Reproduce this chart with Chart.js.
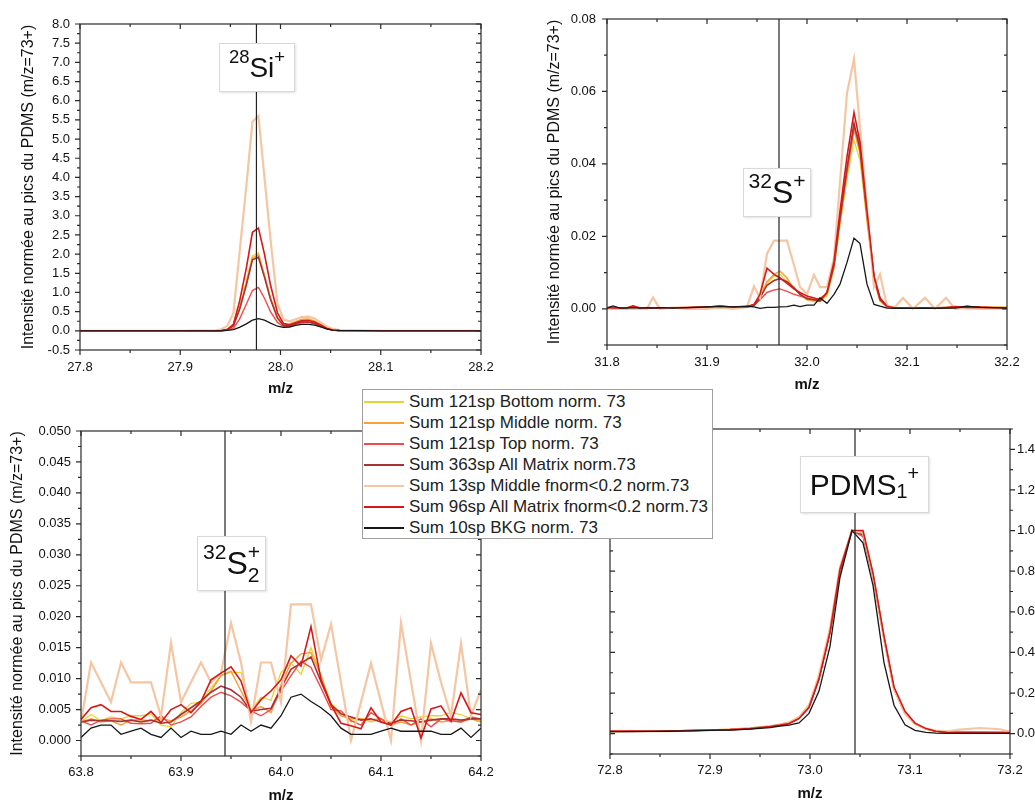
<!DOCTYPE html>
<html>
<head>
<meta charset="utf-8">
<script src="https://cdn.jsdelivr.net/npm/chart.js@4.4.1/dist/chart.umd.min.js"></script>
<style>
  html, body { margin: 0; padding: 0; background: #fff; overflow: hidden; }
  body { width: 1035px; height: 801px; position: relative; font-family: 'Liberation Sans', Arial, sans-serif; color: #111; }
  canvas { position: absolute; }
  .tag { position: absolute; z-index: 3; background: #fff; border: 1px solid #d9d9d9; box-shadow: 1px 1px 2px rgba(0,0,0,0.12);
         box-sizing: border-box; display: flex; align-items: center; justify-content: center; white-space: nowrap; color: #111; }
  .tag .up { font-size: 0.66em; position: relative; top: -0.55em; }
  .tag .dn { font-size: 0.66em; position: relative; top: 0.35em; }
  .tag .stack { display: inline-flex; flex-direction: column; font-size: 0.66em; line-height: 1.05; }
  #legend { position: absolute; z-index: 4; left: 362px; top: 389px; width: 351px; height: 150px; box-sizing: border-box;
            background: #fff; border: 1px solid #a0a0a0; padding-top: 1px; }
  #legend .row { height: 21px; display: flex; align-items: center; font-size: 17px; color: #222; }
  #legend svg { flex: none; margin-left: 1px; margin-right: 5px; }
</style>
</head>
<body>
<canvas id="pSi" width="520" height="400" style="left:0;top:0"></canvas>
<canvas id="pS" width="515" height="400" style="left:520px;top:0"></canvas>
<canvas id="pS2" width="520" height="410" style="left:0;top:400px"></canvas>
<canvas id="pPdms" width="515" height="410" style="left:520px;top:400px"></canvas>

<div class="tag" style="left:219px;top:43px;width:76px;height:49px;font-size:28px"><span class="up">28</span>Si<span class="up">+</span></div>
<div class="tag" style="left:743px;top:168px;width:68px;height:49px;font-size:32px"><span class="up">32</span>S<span class="up">+</span></div>
<div class="tag" style="left:197px;top:536px;width:69px;height:55px;font-size:32px"><span class="up">32</span>S<span class="stack"><span>+</span><span>2</span></span></div>
<div class="tag" style="left:800px;top:456px;width:129px;height:57px;font-size:30px">PDMS<span class="dn">1</span><span class="up">+</span></div>

<div id="legend"></div>

<script>
// series shared by all four panels
const seriesNames = [
  'Sum 121sp Bottom norm. 73',
  'Sum 121sp Middle norm. 73',
  'Sum 121sp Top norm. 73',
  'Sum 363sp All Matrix norm.73',
  'Sum 13sp Middle fnorm<0.2 norm.73',
  'Sum 96sp All Matrix fnorm<0.2 norm.73',
  'Sum 10sp BKG norm. 73'
];
const seriesColors = ['#e6d530', '#f7a03c', '#f24a4a', '#a83232', '#f5c6a3', '#d81818', '#161616'];
const seriesWidths = [1.3, 1.5, 1.4, 1.6, 2.2, 1.6, 1.3];

// 28Si+ panel
const siX      = [27.8, 27.9, 27.935, 27.941, 27.947, 27.953, 27.959, 27.966, 27.972, 27.978, 27.984, 27.990, 27.997, 28.003, 28.009, 28.015, 28.021, 28.028, 28.034, 28.040, 28.046, 28.052, 28.059, 28.1, 28.2];
const siBottom = [0, 0, 0, 0.01, 0.03, 0.15, 0.6, 1.3, 1.95, 2.03, 1.45, 0.85, 0.35, 0.16, 0.16, 0.22, 0.28, 0.29, 0.24, 0.15, 0.07, 0.02, 0, 0, 0];
const siMiddle = [0, 0, 0, 0.01, 0.03, 0.14, 0.57, 1.26, 1.9, 1.98, 1.45, 0.86, 0.36, 0.17, 0.18, 0.24, 0.3, 0.31, 0.26, 0.17, 0.08, 0.02, 0.01, 0, 0];
const siTop    = [0, 0, 0, 0, 0.02, 0.07, 0.3, 0.7, 1.05, 1.13, 0.85, 0.5, 0.22, 0.11, 0.12, 0.17, 0.21, 0.22, 0.18, 0.12, 0.05, 0.02, 0, 0, 0];
const siAll363 = [0, 0, 0, 0.01, 0.03, 0.13, 0.54, 1.2, 1.85, 1.92, 1.4, 0.82, 0.33, 0.14, 0.14, 0.19, 0.23, 0.23, 0.2, 0.13, 0.06, 0.02, 0, 0, 0];
const siMid13  = [0, 0, 0.01, 0.04, 0.13, 0.46, 2.0, 3.8, 5.45, 5.6, 4.0, 2.4, 0.7, 0.3, 0.25, 0.3, 0.36, 0.37, 0.32, 0.22, 0.12, 0.05, 0.02, 0, 0];
const siAll96  = [0, 0, 0, 0.01, 0.04, 0.17, 0.75, 1.65, 2.57, 2.68, 2.0, 1.2, 0.47, 0.19, 0.16, 0.21, 0.26, 0.27, 0.23, 0.15, 0.07, 0.02, 0.01, 0, 0];
const siBkg    = [0, 0, 0, 0, 0.01, 0.03, 0.09, 0.18, 0.28, 0.32, 0.28, 0.2, 0.12, 0.09, 0.1, 0.14, 0.17, 0.17, 0.15, 0.1, 0.05, 0.02, 0.01, 0, 0];
const siRef = 27.976;

// 32S+ panel
const sX      = [31.8, 31.806, 31.813, 31.82, 31.826, 31.833, 31.84, 31.846, 31.853, 31.866, 31.88, 31.9, 31.913, 31.926, 31.94,
                 31.947, 31.953, 31.96, 31.967, 31.973, 31.98, 31.987, 31.993, 32.0, 32.007, 32.013, 32.02, 32.027, 32.033, 32.04, 32.047, 32.053, 32.06, 32.067, 32.073, 32.08, 32.087,
                 32.096, 32.106, 32.118, 32.128, 32.139, 32.148, 32.16, 32.173, 32.186, 32.2];
const sBottom = [0.0003, 0.0002, 0.0002, 0.0003, 0.0002, 0.0003, 0.0002, 0.0003, 0.0002, 0.0003, 0.0003, 0.0004, 0.0006, 0.0004, 0.0006,
                 0.001, 0.003, 0.007, 0.009, 0.0095, 0.0075, 0.006, 0.004, 0.0025, 0.002, 0.002, 0.0035, 0.011, 0.023, 0.036, 0.0466, 0.041, 0.024, 0.008, 0.002, 0.0005, 0.0003,
                 0.0002, 0.0002, 0.0003, 0.0002, 0.0003, 0.0004, 0.0003, 0.0005, 0.0004, 0.0003];
const sMiddle = [0.0004, 0.0002, 0.0003, 0.0002, 0.0003, 0.0002, 0.0003, 0.0002, 0.0003, 0.0003, 0.0004, 0.0005, 0.0007, 0.0005, 0.0006,
                 0.0012, 0.0035, 0.0075, 0.0095, 0.0104, 0.0085, 0.0055, 0.004, 0.0025, 0.0022, 0.003, 0.004, 0.0115, 0.024, 0.037, 0.0494, 0.043, 0.025, 0.0085, 0.0025, 0.0006, 0.0003,
                 0.0003, 0.0002, 0.0003, 0.0002, 0.0004, 0.0003, 0.0004, 0.0005, 0.0005, 0.0004];
const sTop    = [0.0003, 0.0002, 0.0003, 0.0002, 0.0003, 0.0002, 0.0002, 0.0003, 0.0002, 0.0003, 0.0004, 0.0004, 0.0006, 0.0005, 0.0005,
                 0.0009, 0.0025, 0.0045, 0.0052, 0.0055, 0.0048, 0.004, 0.0035, 0.003, 0.0025, 0.002, 0.0045, 0.0125, 0.025, 0.038, 0.05, 0.046, 0.027, 0.009, 0.003, 0.0008, 0.0003,
                 0.0002, 0.0003, 0.0002, 0.0003, 0.0004, 0.0003, 0.0003, 0.0004, 0.0003, 0.0003];
const sAll363 = [0.0003, 0.0003, 0.0002, 0.0003, 0.0003, 0.0002, 0.0003, 0.0003, 0.0002, 0.0003, 0.0003, 0.0005, 0.0006, 0.0004, 0.0006,
                 0.001, 0.003, 0.0065, 0.0078, 0.0083, 0.0075, 0.0058, 0.004, 0.0028, 0.0025, 0.0022, 0.0045, 0.012, 0.025, 0.039, 0.0512, 0.044, 0.026, 0.0085, 0.0025, 0.0006, 0.0003,
                 0.0003, 0.0002, 0.0003, 0.0003, 0.0003, 0.0005, 0.0006, 0.0004, 0.0003, 0.0003];
const sMid13  = [0, 0, 0, 0, 0, 0, 0, 0.0031, 0, 0.0003, 0, 0, 0.0003, 0, 0.0005,
                 0.0062, 0.003, 0.0152, 0.0188, 0.0188, 0.0188, 0.012, 0.006, 0.004, 0.0094, 0.006, 0.006, 0.014, 0.035, 0.0595, 0.069, 0.05, 0.028, 0.006, 0.0095, 0.0008, 0.0002,
                 0.003, 0, 0.003, 0, 0.003, 0, 0.0002, 0, 0.0001, 0];
const sAll96  = [0.0003, 0.0002, 0.0002, 0.0003, 0.0008, 0.0002, 0.0002, 0.0003, 0.0002, 0.0003, 0.0003, 0.0005, 0.0007, 0.0005, 0.0006,
                 0.0012, 0.004, 0.0112, 0.0095, 0.0085, 0.007, 0.0055, 0.0045, 0.0035, 0.003, 0.0025, 0.0045, 0.013, 0.027, 0.042, 0.0542, 0.046, 0.027, 0.009, 0.003, 0.0007, 0.0003,
                 0.0003, 0.0002, 0.0003, 0.0002, 0.0003, 0.0006, 0.0004, 0.0004, 0.0003, 0.0003];
const sBkg    = [0.0002, 0.0008, 0.0002, 0.0002, 0.0003, 0.0002, 0.0003, 0.0002, 0.0003, 0.0002, 0.0003, 0.0005, 0.0007, 0.0005, 0.0007,
                 0.0005, 0.0001, 0.0004, 0.0004, 0.0005, 0.0006, 0.001, 0.0006, 0.001, 0.001, 0.003, 0.0015, 0.004, 0.0068, 0.0128, 0.0195, 0.018, 0.0068, 0.0012, 0.0007, 0.0002, 0.0001,
                 0.0001, 0.0001, 0.0002, 0.0001, 0.0002, 0.0002, 0.0007, 0.0004, 0.0003, 0.0002];
const sRef = 31.972;

// 32S2+ panel
const s2X      = [63.80, 63.81, 63.82, 63.83, 63.84, 63.85, 63.86, 63.87, 63.88, 63.89, 63.90, 63.91, 63.92, 63.93, 63.94, 63.95, 63.96, 63.97, 63.98, 63.99,
                  64.00, 64.01, 64.02, 64.03, 64.04, 64.05, 64.06, 64.07, 64.08, 64.09, 64.10, 64.11, 64.12, 64.13, 64.14, 64.15, 64.16, 64.17, 64.18, 64.19, 64.20];
const s2Bottom = [0.003, 0.0042, 0.0032, 0.0038, 0.0035, 0.004, 0.004, 0.0043, 0.0025, 0.0022, 0.0045, 0.006, 0.0062, 0.0085, 0.0105, 0.011, 0.011, 0.0048, 0.007, 0.0065,
                  0.011, 0.0125, 0.0107, 0.015, 0.0105, 0.006, 0.0045, 0.003, 0.0035, 0.003, 0.0035, 0.003, 0.004, 0.0035, 0.0038, 0.004, 0.004, 0.0045, 0.0042, 0.0035, 0.0032];
const s2Middle = [0.003, 0.0035, 0.003, 0.0032, 0.0025, 0.0033, 0.0033, 0.0032, 0.0035, 0.0032, 0.0038, 0.0048, 0.006, 0.008, 0.0105, 0.0112, 0.008, 0.0048, 0.0055, 0.0045,
                  0.009, 0.0125, 0.014, 0.0142, 0.0105, 0.0055, 0.004, 0.0035, 0.0035, 0.0033, 0.0035, 0.0025, 0.003, 0.0025, 0.003, 0.0035, 0.003, 0.0032, 0.003, 0.0035, 0.003];
const s2Top    = [0.0032, 0.0025, 0.0033, 0.0035, 0.0035, 0.0028, 0.0027, 0.0028, 0.004, 0.0025, 0.003, 0.0038, 0.0055, 0.007, 0.0078, 0.0072, 0.0062, 0.0048, 0.004, 0.005,
                  0.008, 0.0105, 0.0128, 0.0118, 0.0085, 0.005, 0.0048, 0.0032, 0.0025, 0.0045, 0.0035, 0.0025, 0.0035, 0.0025, 0.0035, 0.0022, 0.0035, 0.0032, 0.003, 0.0038, 0.0035];
const s2All363 = [0.003, 0.0033, 0.0032, 0.0032, 0.0031, 0.0033, 0.003, 0.0033, 0.0028, 0.003, 0.0042, 0.0053, 0.0064, 0.0078, 0.0088, 0.0082, 0.007, 0.0047, 0.005, 0.0052,
                  0.0085, 0.0115, 0.0125, 0.0135, 0.0095, 0.0058, 0.0043, 0.0038, 0.0033, 0.0035, 0.003, 0.0028, 0.0033, 0.0032, 0.003, 0.0033, 0.0035, 0.0035, 0.0033, 0.0035, 0.0035];
const s2Mid13  = [0.003, 0.0126, 0.0094, 0.0062, 0.0126, 0.0094, 0.0094, 0.0094, 0.0039, 0.0158, 0.0062, 0.0094, 0.0126, 0.0094, 0.0109, 0.019, 0.0126, 0.0031, 0.0126, 0.0126,
                  0.0062, 0.022, 0.022, 0.022, 0.013, 0.0188, 0.0094, 0, 0.0062, 0.0125, 0.0062, 0, 0.019, 0.0095, 0, 0.0157, 0.0094, 0.004, 0.0157, 0.004, 0.0082];
const s2All96  = [0.0034, 0.0053, 0.0058, 0.0047, 0.0047, 0.0039, 0.0034, 0.0047, 0.0029, 0.005, 0.0058, 0.0045, 0.0063, 0.0098, 0.0109, 0.0119, 0.0096, 0.0045, 0.0066, 0.008,
                  0.0098, 0.0137, 0.012, 0.0184, 0.0098, 0.0058, 0.0028, 0.0024, 0.0019, 0.0053, 0.003, 0.0025, 0.0047, 0.0053, 0.0004, 0.0051, 0.0056, 0.0031, 0.0077, 0.0045, 0.0042];
const s2Bkg    = [0.0005, 0.002, 0.0025, 0.0025, 0.001, 0.0015, 0.002, 0.001, 0.0005, 0.002, 0.0005, 0.0015, 0.001, 0.001, 0.0015, 0.001, 0.0025, 0.0015, 0.0025, 0.002,
                  0.004, 0.007, 0.0075, 0.0063, 0.0053, 0.004, 0.002, 0.001, 0.001, 0.001, 0.0015, 0.002, 0.0015, 0.0015, 0.0015, 0.0015, 0.001, 0.001, 0.002, 0.0005, 0.002];
const s2Ref = 63.944;

// PDMS1+ panel
const pdmsX      = [72.8, 72.82, 72.84, 72.86, 72.88, 72.9, 72.92, 72.94, 72.96, 72.97, 72.979, 72.989, 72.999, 73.009, 73.02, 73.03, 73.042, 73.053, 73.063, 73.074,
                    73.084, 73.095, 73.105, 73.116, 73.126, 73.137, 73.15, 73.17, 73.19, 73.2];
const pdmsBottom = [0.01, 0.012, 0.012, 0.013, 0.015, 0.018, 0.021, 0.027, 0.037, 0.045, 0.055, 0.08, 0.14, 0.28, 0.5, 0.8, 1.0, 0.99, 0.77, 0.46,
                    0.22, 0.1, 0.048, 0.022, 0.011, 0.007, 0.006, 0.006, 0.005, 0.005];
const pdmsMiddle = [0.011, 0.012, 0.012, 0.013, 0.015, 0.018, 0.022, 0.028, 0.038, 0.046, 0.056, 0.082, 0.14, 0.28, 0.51, 0.81, 1.0, 0.99, 0.78, 0.47,
                    0.22, 0.1, 0.05, 0.023, 0.012, 0.008, 0.007, 0.006, 0.006, 0.005];
const pdmsTop    = [0.012, 0.013, 0.012, 0.013, 0.015, 0.018, 0.02, 0.025, 0.035, 0.042, 0.05, 0.075, 0.13, 0.27, 0.5, 0.8, 1.0, 0.97, 0.77, 0.47,
                    0.22, 0.1, 0.05, 0.024, 0.012, 0.008, 0.006, 0.006, 0.005, 0.005];
const pdmsAll363 = [0.011, 0.012, 0.012, 0.013, 0.015, 0.018, 0.02, 0.025, 0.035, 0.042, 0.05, 0.075, 0.13, 0.27, 0.5, 0.8, 1.0, 0.98, 0.78, 0.47,
                    0.22, 0.1, 0.05, 0.024, 0.012, 0.007, 0.006, 0.005, 0.005, 0.005];
const pdmsMid13  = [0.01, 0.011, 0.011, 0.012, 0.014, 0.017, 0.02, 0.026, 0.036, 0.044, 0.054, 0.08, 0.14, 0.29, 0.52, 0.82, 1.0, 0.99, 0.78, 0.47,
                    0.22, 0.1, 0.05, 0.025, 0.015, 0.012, 0.02, 0.028, 0.022, 0.01];
const pdmsAll96  = [0.012, 0.013, 0.012, 0.013, 0.015, 0.018, 0.02, 0.025, 0.035, 0.042, 0.05, 0.075, 0.13, 0.27, 0.5, 0.81, 1.0, 1.0, 0.79, 0.48,
                    0.23, 0.11, 0.052, 0.025, 0.012, 0.007, 0.005, 0.005, 0.005, 0.005];
const pdmsBkg    = [0.01, 0.01, 0.011, 0.012, 0.014, 0.016, 0.018, 0.022, 0.03, 0.037, 0.042, 0.053, 0.1, 0.21, 0.43, 0.77, 1.0, 0.94, 0.73, 0.35,
                    0.14, 0.044, 0.016, 0.006, 0.003, 0.002, 0.002, 0.002, 0.002, 0.002];
const pdmsRef = 73.045;

const FONT = "'Liberation Sans', Arial, sans-serif";
const yTitleText = 'Intensité normée au pics du PDMS (m/z=73+)';

// frame on all four sides, ticks out on the labelled axes and in on the mirror sides
const frameTicks = {
  id: 'frameTicks',
  afterDatasetsDraw(chart, args, o) {
    const {ctx, chartArea: a} = chart;
    const xs = chart.scales.x, ys = chart.scales.y;
    ctx.save();
    ctx.strokeStyle = '#2a2a2a';
    ctx.lineWidth = 1.2;
    ctx.strokeRect(a.left, a.top, a.right - a.left, a.bottom - a.top);
    ctx.beginPath();
    const marks = (scale, major, minor, draw) => {
      const first = Math.ceil(scale.min / minor - 1e-6);
      const last = Math.floor(scale.max / minor + 1e-6);
      for (let k = first; k <= last; k++) {
        const v = k * minor;
        const len = Math.abs(v / major - Math.round(v / major)) < 1e-4 ? 5 : 3;
        draw(scale.getPixelForValue(v), len);
      }
    };
    marks(xs, o.xMajor, o.xMinor, (px, len) => {
      ctx.moveTo(px, a.bottom); ctx.lineTo(px, a.bottom + len);
      ctx.moveTo(px, a.top); ctx.lineTo(px, a.top + len);
    });
    const outX = o.yRight ? a.right : a.left;
    const inX = o.yRight ? a.left : a.right;
    const dir = o.yRight ? 1 : -1;
    marks(ys, o.yMajor, o.yMinor, (py, len) => {
      ctx.moveTo(outX, py); ctx.lineTo(outX + dir * len, py);
      ctx.moveTo(inX, py); ctx.lineTo(inX + dir * len, py);
    });
    ctx.stroke();
    ctx.restore();
  }
};

function makeDatasets(xs, series, ref, yMin, yMax) {
  const sets = series.map((vals, i) => ({
    label: seriesNames[i],
    data: xs.map((x, k) => ({x: x, y: vals[k]})),
    borderColor: seriesColors[i],
    borderWidth: seriesWidths[i],
    pointRadius: 0,
    tension: 0,
    fill: false,
    order: 10 - i
  }));
  sets.push({
    label: 'ref',
    data: [{x: ref, y: yMin}, {x: ref, y: yMax}],
    borderColor: '#222', borderWidth: 1.2, pointRadius: 0, order: 0
  });
  return sets;
}

function isMultiple(v, step) {
  return Math.abs(v / step - Math.round(v / step)) < 1e-4;
}

function drawPanel(id, p) {
  const tickFont = {family: FONT, size: 13};
  new Chart(document.getElementById(id), {
    type: 'line',
    data: {datasets: makeDatasets(p.x, p.series, p.ref, p.yMin, p.yMax)},
    options: {
      responsive: false,
      animation: false,
      devicePixelRatio: 1,
      events: [],
      layout: {padding: p.pad},
      plugins: {
        legend: {display: false},
        tooltip: {enabled: false},
        frameTicks: {xMajor: 0.1, xMinor: 0.05, yMajor: p.yMajor, yMinor: p.yMinor, yRight: p.yRight}
      },
      scales: {
        x: {
          type: 'linear', min: p.xMin, max: p.xMax,
          grid: {display: false, drawTicks: false}, border: {display: false},
          ticks: {stepSize: 0.1, padding: p.xPad, autoSkip: false, maxRotation: 0, font: tickFont, color: '#111',
                  callback: v => v.toFixed(1)},
          title: {display: true, text: 'm/z', color: '#111', font: {family: FONT, size: 15, weight: 'bold'},
                  padding: {top: 0, bottom: p.xTitlePad}},
          afterFit: s => { s.height = p.xH; }
        },
        y: {
          type: 'linear', position: p.yRight ? 'right' : 'left', min: p.yMin, max: p.yMax,
          grid: {display: false, drawTicks: false}, border: {display: false},
          ticks: {stepSize: p.yMinor, padding: p.yPad, autoSkip: false, font: tickFont, color: '#111',
                  callback: v => (isMultiple(v, p.yMajor) && v >= p.yLabelMin - 1e-9) ? v.toFixed(p.yDec) : ''},
          title: {display: !!p.yTitlePad, text: yTitleText, color: '#111', font: {family: FONT, size: 16},
                  padding: {top: p.yTitlePad || 0, bottom: 0}},
          afterFit: s => { s.width = p.yW; }
        }
      }
    },
    plugins: [frameTicks]
  });
}

drawPanel('pSi', {
  x: siX, series: [siBottom, siMiddle, siTop, siAll363, siMid13, siAll96, siBkg], ref: siRef,
  xMin: 27.8, xMax: 28.2, yMin: -0.5, yMax: 8.0, yMajor: 0.5, yMinor: 0.25, yLabelMin: -0.5, yDec: 1,
  pad: {top: 24, right: 39, bottom: 0, left: 0}, xH: 50, yW: 80, xPad: 10, yPad: 10, xTitlePad: 2, yTitlePad: 19
});
drawPanel('pS', {
  x: sX, series: [sBottom, sMiddle, sTop, sAll363, sMid13, sAll96, sBkg], ref: sRef,
  xMin: 31.8, xMax: 32.2, yMin: -0.01, yMax: 0.08, yMajor: 0.02, yMinor: 0.01, yLabelMin: 0, yDec: 2,
  pad: {top: 19, right: 28, bottom: 0, left: 0}, xH: 55, yW: 87, xPad: 10, yPad: 11, xTitlePad: 6, yTitlePad: 25
});
drawPanel('pS2', {
  x: s2X, series: [s2Bottom, s2Middle, s2Top, s2All363, s2Mid13, s2All96, s2Bkg], ref: s2Ref,
  xMin: 63.8, xMax: 64.2, yMin: -0.0025, yMax: 0.05, yMajor: 0.005, yMinor: 0.0025, yLabelMin: 0, yDec: 3,
  pad: {top: 31, right: 39, bottom: 0, left: 0}, xH: 54, yW: 81, xPad: 9, yPad: 10, xTitlePad: 5, yTitlePad: 8
});
drawPanel('pPdms', {
  x: pdmsX, series: [pdmsBottom, pdmsMiddle, pdmsTop, pdmsAll363, pdmsMid13, pdmsAll96, pdmsBkg], ref: pdmsRef,
  xMin: 72.8, xMax: 73.2, yMin: -0.1, yMax: 1.5, yMajor: 0.2, yMinor: 0.1, yLabelMin: 0, yDec: 1, yRight: true,
  pad: {top: 29, right: 0, bottom: 0, left: 90}, xH: 56, yW: 25, xPad: 9, yPad: 7, xTitlePad: 7, yTitlePad: 0
});

// legend box shared by the four panels
const SVGNS = 'http://www.w3.org/2000/svg';
const legend = document.getElementById('legend');
seriesNames.forEach((name, i) => {
  const row = document.createElement('div');
  row.className = 'row';
  const svg = document.createElementNS(SVGNS, 'svg');
  svg.setAttribute('width', '40');
  svg.setAttribute('height', '6');
  const ln = document.createElementNS(SVGNS, 'line');
  ln.setAttribute('x1', '0'); ln.setAttribute('x2', '40');
  ln.setAttribute('y1', '3'); ln.setAttribute('y2', '3');
  ln.setAttribute('stroke', seriesColors[i]);
  ln.setAttribute('stroke-width', '2');
  svg.appendChild(ln);
  const label = document.createElement('span');
  label.textContent = name;
  row.appendChild(svg);
  row.appendChild(label);
  legend.appendChild(row);
});
</script>
</body>
</html>
